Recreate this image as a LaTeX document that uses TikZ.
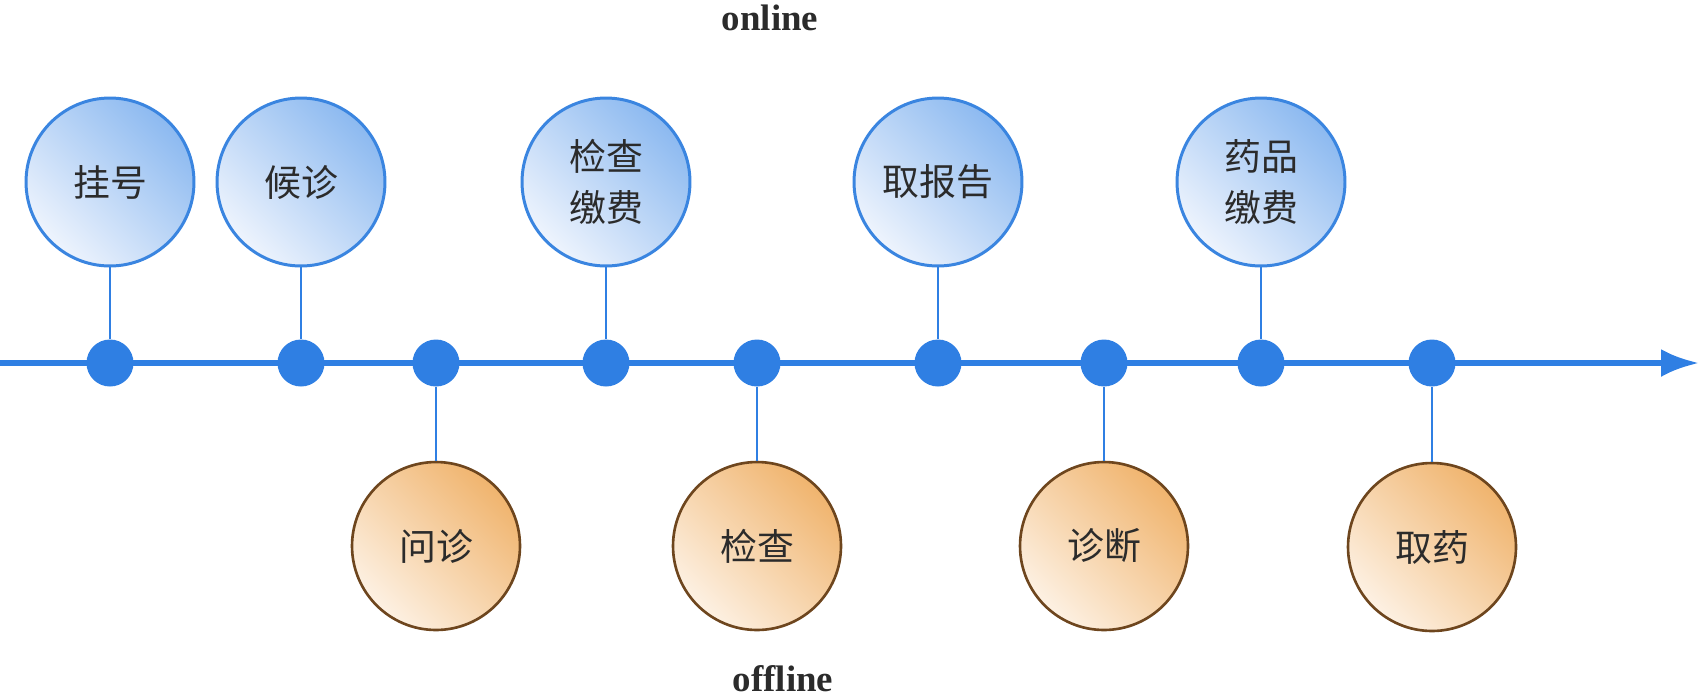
\documentclass[tikz,border=0pt]{standalone}
\usepackage{fontspec}
\setmainfont{Liberation Serif}
\newfontfamily\cjk{Noto Sans CJK SC}
\usetikzlibrary{arrows.meta,positioning}

\definecolor{lineblue}{HTML}{2F7FE3}
\definecolor{rimblue}{HTML}{3A85E0}
\definecolor{deepblue}{HTML}{8CB9F0}
\definecolor{paleblue}{HTML}{EEF4FD}
\definecolor{deeporange}{HTML}{F0B46E}
\definecolor{paleorange}{HTML}{FDF1E3}
\definecolor{rimbrown}{HTML}{6E461E}
\definecolor{inkgray}{HTML}{2B2B2B}

\begin{document}
\begin{tikzpicture}[x=0.02cm, y=-0.02cm,
  online/.style={circle, draw=rimblue, line width=1.7pt, minimum size=3.36cm, inner sep=0pt,
    top color=deepblue, bottom color=paleblue, shading angle=-45,
    align=center, text=inkgray, font=\cjk\fontsize{21}{29}\selectfont},
  offline/.style={circle, draw=rimbrown, line width=1.5pt, minimum size=3.36cm, inner sep=0pt,
    top color=deeporange, bottom color=paleorange, shading angle=-45,
    align=center, text=inkgray, font=\cjk\fontsize{21}{29}\selectfont},
  dot/.style={circle, fill=lineblue, minimum size=0.94cm, inner sep=0pt},
  axis/.style={-{Latex[length=0.76cm, width=0.56cm]}, lineblue, line width=3.4pt},
  stem/.style={lineblue, line width=1.1pt},
  title/.style={font=\bfseries\fontsize{21}{24}\selectfont, text=inkgray, inner sep=1pt}
]
\useasboundingbox (0,0) rectangle (1700,698);

% time axis
\coordinate (start) at (0,363);
\coordinate (end) at (1699,363);
\draw[axis] (start) -- (end);

\node[dot] (d1) at (110,363) {};
\node[dot] (d2) at (301,363) {};
\node[dot] (d3) at (436,363) {};
\node[dot] (d4) at (606,363) {};
\node[dot] (d5) at (757,363) {};
\node[dot] (d6) at (938,363) {};
\node[dot] (d7) at (1104,363) {};
\node[dot] (d8) at (1261,363) {};
\node[dot] (d9) at (1432,363) {};

% online steps
\node[online] (guahao) at (110,182) {挂号};
\node[online] (houzhen) at (301,182) {候诊};
\node[online] (jcjf) at (606,182) {检查\\缴费};
\node[online] (qubg) at (938,182) {取报告};
\node[online] (ypjf) at (1261,182) {药品\\缴费};

% offline steps
\node[offline] (wenzhen) at (436,546) {问诊};
\node[offline] (jiancha) at (757,546) {检查};
\node[offline] (zhenduan) at (1104,546) {诊断};
\node[offline] (quyao) at (1432,547) {取药};

\draw[stem] (guahao) -- (d1);
\draw[stem] (houzhen) -- (d2);
\draw[stem] (jcjf) -- (d4);
\draw[stem] (qubg) -- (d6);
\draw[stem] (ypjf) -- (d8);
\draw[stem] (wenzhen) -- (d3);
\draw[stem] (jiancha) -- (d5);
\draw[stem] (zhenduan) -- (d7);
\draw[stem] (quyao) -- (d9);

\node[title] (on) at (770,18) {online};
\node[title] (off) at (783,679) {offline};

\end{tikzpicture}
\end{document}
